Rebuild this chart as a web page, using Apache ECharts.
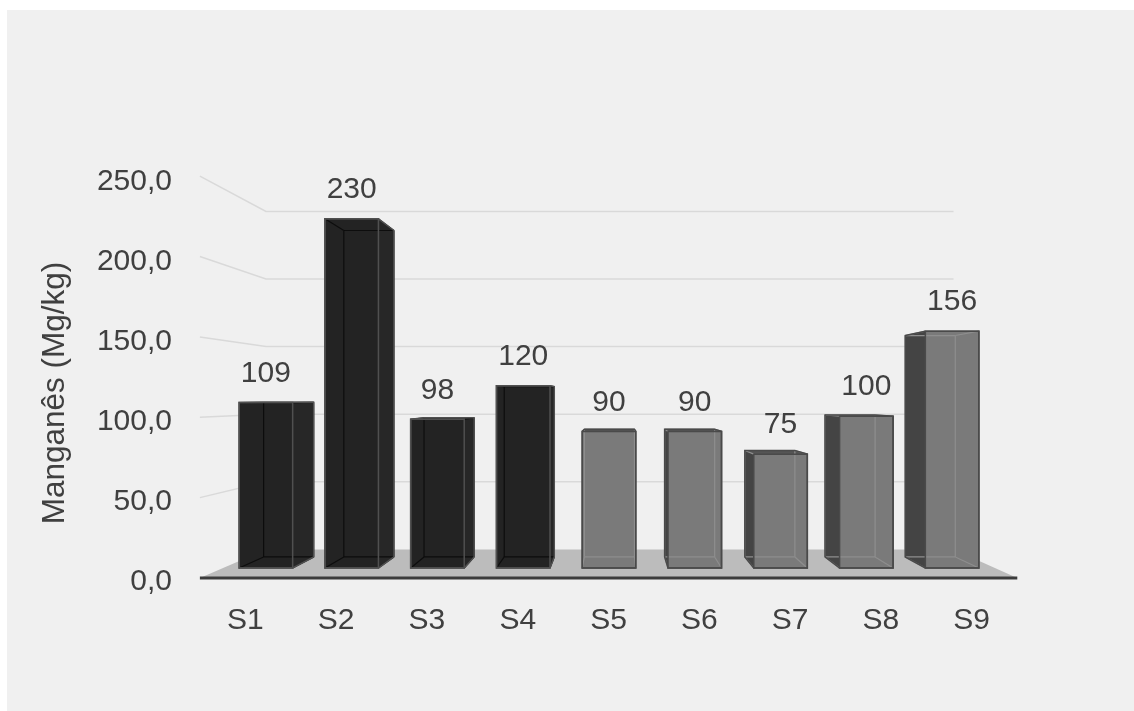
<!DOCTYPE html>
<html>
<head>
<meta charset="utf-8">
<script src="https://cdn.jsdelivr.net/npm/echarts@6/dist/echarts.min.js"></script>
<style>
  html, body { margin: 0; height: 100%; background: #ffffff; overflow: hidden; }
  #main { position: absolute; left: 7px; top: 10px; right: 0; bottom: 0; }
</style>
</head>
<body>
<div id="main"></div>
<script>
// dados
var categorias = ['S1', 'S2', 'S3', 'S4', 'S5', 'S6', 'S7', 'S8', 'S9'];
var serieEscura = [109, 230, 98, 120, null, null, null, null, null];
var serieClara = [null, null, null, null, 90, 90, 75, 100, 156];
var marcas = [0, 50, 100, 150, 200, 250];

var myChart = echarts.init(document.getElementById('main'));

// perspectiva do grafico 3D (ponto de fuga e escalas de profundidade)
var FUGA = [609, 388];
var K_FUNDO_BARRA = 0.935;
var K_PAREDE = 0.8906;
var K_FRENTE = 1.0588;
var FONTE = '"Liberation Sans", Arial, sans-serif';
var COR_TEXTO = '#404040';

function proj(p, k) {
    return [FUGA[0] + k * (p[0] - FUGA[0]), FUGA[1] + k * (p[1] - FUGA[1])];
}

// contorno convexo (silhueta da caixa)
function casco(p) {
    p = p.slice().sort(function (a, b) { return a[0] - b[0] || a[1] - b[1]; });
    function cross(o, a, b) { return (a[0] - o[0]) * (b[1] - o[1]) - (a[1] - o[1]) * (b[0] - o[0]); }
    var lo = [], up = [], i;
    for (i = 0; i < p.length; i++) {
        while (lo.length >= 2 && cross(lo[lo.length - 2], lo[lo.length - 1], p[i]) <= 0) lo.pop();
        lo.push(p[i]);
    }
    for (i = p.length - 1; i >= 0; i--) {
        while (up.length >= 2 && cross(up[up.length - 2], up[up.length - 1], p[i]) <= 0) up.pop();
        up.push(p[i]);
    }
    lo.pop(); up.pop();
    return lo.concat(up);
}

function linha(p, q, cor, lw) {
    return { type: 'line', shape: { x1: p[0], y1: p[1], x2: q[0], y2: q[1] }, style: { stroke: cor, lineWidth: lw } };
}

function caixa(c) {
    return function (params, api) {
        var v = api.value(1);
        var topo = api.coord([api.value(0), v]);
        var base = api.coord([api.value(0), 0]);
        var w = api.size([1, 0])[0] * 0.624;
        var x0 = topo[0] - w / 2, x1 = topo[0] + w / 2, y0 = topo[1], y1 = base[1];
        var F = [[x0, y0], [x1, y0], [x1, y1], [x0, y1]];
        var B = F.map(function (p) { return proj(p, K_FUNDO_BARRA); });
        var lados = [
            { pts: [F[0], B[0], B[3], F[3]], vis: x0 > FUGA[0], cor: c.lado },
            { pts: [F[1], B[1], B[2], F[2]], vis: x1 < FUGA[0], cor: c.lado },
            { pts: [F[0], F[1], B[1], B[0]], vis: y0 > FUGA[1], cor: c.topo }
        ];
        var filhos = [{ type: 'polygon', shape: { points: B }, style: { fill: c.fundo } }];
        lados.filter(function (l) { return !l.vis; }).concat(lados.filter(function (l) { return l.vis; }))
            .forEach(function (l) {
                filhos.push({ type: 'polygon', shape: { points: l.pts }, style: { fill: l.cor } });
            });
        filhos.push({ type: 'polygon', shape: { points: F }, style: { fill: c.frente } });
        // arestas escondidas (vistas pela transparencia)
        for (var i = 0; i < 4; i++) {
            filhos.push(linha(B[i], B[(i + 1) % 4], c.escondida, 1.2));
            filhos.push(linha(F[i], B[i], c.escondida, 1.2));
        }
        filhos.push({ type: 'polygon', shape: { points: F }, style: { fill: null, stroke: c.borda, lineWidth: 1.5 } });
        filhos.push({ type: 'polygon', shape: { points: casco(F.concat(B)) }, style: { fill: null, stroke: c.borda, lineWidth: 1.5 } });
        filhos.push({
            type: 'text', x: (x0 + x1) / 2, y: y0 - 29,
            style: { text: String(v), fill: COR_TEXTO, font: '30px ' + FONTE, align: 'center', verticalAlign: 'middle' }
        });
        return { type: 'group', children: filhos };
    };
}

// paredes (linhas de grade) e chao
function parede(params, api) {
    var t = api.value(1);
    var cs = params.coordSys;
    var y = api.coord([0, t])[1];
    var esq = [cs.x, y], dir = [cs.x + cs.width, y];
    var a = proj(esq, K_FRENTE), b = proj(esq, K_PAREDE), c = proj(dir, K_PAREDE);
    if (t === 0) {
        var d = proj(dir, K_FRENTE);
        return {
            type: 'group', children: [
                { type: 'polygon', shape: { points: [a, b, c, d] }, style: { fill: '#bcbcbc' } },
                linha(a, d, '#3c3c3c', 3)
            ]
        };
    }
    return { type: 'polyline', shape: { points: [a, b, c] }, style: { stroke: '#d9d9d9', lineWidth: 1.5, fill: null } };
}

function pares(lista) {
    return lista.map(function (v, i) { return [i, v]; }).filter(function (d) { return d[1] != null; });
}

myChart.setOption({
    backgroundColor: '#f0f0f0',
    animation: false,
    textStyle: { fontFamily: FONTE },
    grid: [
        { left: 216, top: 178.5, width: 772, height: 379.5 },   // plano frontal das barras
        { left: 193, top: 171.5, width: 817, height: 400 }      // eixos com rotulos
    ],
    xAxis: [
        { type: 'category', gridIndex: 0, data: categorias, show: false },
        {
            type: 'category', gridIndex: 1, data: categorias,
            axisLine: { show: false }, axisTick: { show: false },
            axisLabel: { color: COR_TEXTO, fontSize: 30, margin: 24 }
        }
    ],
    yAxis: [
        { type: 'value', gridIndex: 0, min: 0, max: 250, interval: 50, show: false },
        {
            type: 'value', gridIndex: 1, min: 0, max: 250, interval: 50,
            axisLine: { show: false }, axisTick: { show: false }, splitLine: { show: false },
            axisLabel: {
                color: COR_TEXTO, fontSize: 30, margin: 28,
                formatter: function (v) { return v.toFixed(1).replace('.', ','); }
            }
        }
    ],
    graphic: [{
        type: 'text', x: 48, y: 383, rotation: Math.PI / 2,
        style: { text: 'Manganês (Mg/kg)', fill: COR_TEXTO, font: '31.5px ' + FONTE, align: 'center', verticalAlign: 'middle' }
    }],
    series: [
        {
            type: 'custom', name: 'paredes', xAxisIndex: 0, yAxisIndex: 0, z: 1,
            renderItem: parede, encode: { x: 0, y: 1 },
            data: marcas.map(function (t) { return [0, t]; })
        },
        {
            type: 'custom', name: 'S1-S4', xAxisIndex: 0, yAxisIndex: 0, z: 3,
            renderItem: caixa({ frente: '#232323', lado: '#272727', topo: '#2b2b2b', fundo: '#1a1a1a', borda: '#505050', escondida: '#0d0d0d' }),
            encode: { x: 0, y: 1 },
            data: pares(serieEscura)
        },
        {
            type: 'custom', name: 'S5-S9', xAxisIndex: 0, yAxisIndex: 0, z: 3,
            renderItem: caixa({ frente: '#7a7a7a', lado: '#444444', topo: '#555555', fundo: '#6a6a6a', borda: '#4a4a4a', escondida: '#8e8e8e' }),
            encode: { x: 0, y: 1 },
            data: pares(serieClara)
        }
    ]
});
</script>
</body>
</html>
